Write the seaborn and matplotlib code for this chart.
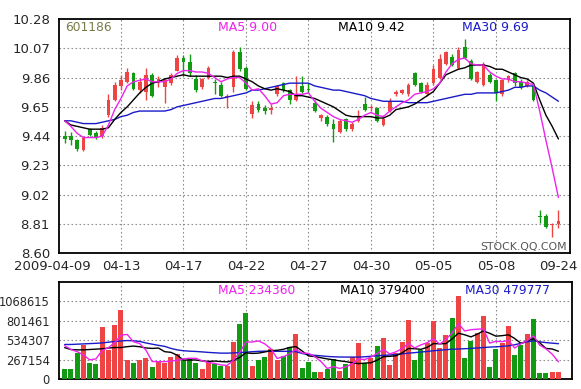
import numpy as np
import pandas as pd
import matplotlib
matplotlib.use("Agg")
import matplotlib.pyplot as plt
import seaborn as sns

# ---------------- data ----------------
stock_code = "601186"
date_labels = ["2009-04-09", "04-13", "04-17", "04-22", "04-27", "04-30", "05-05", "05-08", "09-24"]
price_ticks = ["8.60", "8.81", "9.02", "9.23", "9.44", "9.65", "9.86", "10.07", "10.28"]
volume_ticks = ["0", "267154", "534307", "801461", "1068615"]
volume_top = 1335769
ma_price_labels = ["MA5 9.00", "MA10 9.42", "MA30 9.69"]
ma_volume_labels = ["MA5 234360", "MA10 379400", "MA30 479777"]

open_ = [9.44, 9.44, 9.41, 9.34, 9.49, 9.46, 9.44, 9.59, 9.70, 9.80,
         9.83, 9.89, 9.77, 9.76, 9.88, 9.82, 9.79, 9.82, 9.91, 10.00,
         9.97, 9.85, 9.79, 9.86, 9.83, 9.81, 9.72, 9.79, 10.04, 9.93,
         9.60, 9.67, 9.64, 9.63, 9.74, 9.82, 9.77, 9.70, 9.80, 9.78,
         9.68, 9.57, 9.58, 9.53, 9.47, 9.56, 9.49, 9.55, 9.67, 9.64,
         9.64, 9.52, 9.62, 9.74, 9.75, 9.74, 9.89, 9.82, 9.74, 9.82,
         9.86, 9.96, 10.01, 9.93, 10.08, 9.98, 9.83, 9.81, 9.88, 9.84,
         9.74, 9.84, 9.89, 9.83, 9.80, 9.80, 8.87, 8.87, 8.80, 8.81]
close = [9.42, 9.41, 9.35, 9.43, 9.45, 9.43, 9.50, 9.70, 9.81, 9.84,
         9.90, 9.78, 9.83, 9.88, 9.73, 9.85, 9.84, 9.88, 10.00, 9.97,
         9.89, 9.77, 9.85, 9.93, 9.82, 9.73, 9.73, 10.04, 9.92, 9.78,
         9.66, 9.63, 9.62, 9.64, 9.80, 9.77, 9.70, 9.74, 9.76, 9.77,
         9.62, 9.59, 9.53, 9.49, 9.55, 9.49, 9.53, 9.58, 9.63, 9.65,
         9.55, 9.56, 9.69, 9.76, 9.77, 9.81, 9.81, 9.76, 9.81, 9.92,
         9.99, 10.04, 9.95, 10.06, 10.00, 9.85, 9.90, 9.96, 9.83, 9.75,
         9.84, 9.87, 9.82, 9.79, 9.83, 9.70, 8.86, 8.79, 8.81, 8.83]
high = [9.48, 9.47, 9.42, 9.44, 9.50, 9.48, 9.52, 9.74, 9.83, 9.88,
        9.93, 9.90, 9.86, 9.93, 9.89, 9.87, 9.86, 9.89, 10.02, 10.02,
        10.03, 9.88, 9.86, 9.94, 9.85, 9.83, 9.74, 10.06, 10.08, 9.94,
        9.69, 9.69, 9.66, 9.67, 9.81, 9.83, 9.78, 9.87, 9.87, 9.82,
        9.70, 9.60, 9.59, 9.56, 9.56, 9.57, 9.54, 9.63, 9.72, 9.66,
        9.65, 9.59, 9.71, 9.77, 9.78, 9.82, 9.90, 9.83, 9.83, 9.95,
        10.03, 10.05, 10.03, 10.08, 10.14, 9.99, 9.91, 9.97, 9.89, 9.85,
        9.85, 9.88, 9.90, 9.85, 9.84, 9.81, 8.91, 8.88, 8.82, 8.91]
low = [9.39, 9.38, 9.33, 9.33, 9.44, 9.42, 9.43, 9.58, 9.69, 9.77,
       9.82, 9.77, 9.75, 9.70, 9.72, 9.79, 9.68, 9.81, 9.91, 9.87,
       9.87, 9.76, 9.78, 9.85, 9.74, 9.72, 9.64, 9.76, 9.91, 9.77,
       9.57, 9.61, 9.60, 9.60, 9.73, 9.76, 9.67, 9.69, 9.75, 9.75,
       9.61, 9.55, 9.51, 9.40, 9.46, 9.48, 9.48, 9.54, 9.62, 9.62,
       9.54, 9.51, 9.61, 9.73, 9.74, 9.73, 9.80, 9.75, 9.73, 9.81,
       9.85, 9.95, 9.94, 9.92, 9.99, 9.84, 9.82, 9.80, 9.82, 9.69,
       9.73, 9.83, 9.80, 9.78, 9.79, 9.69, 8.82, 8.78, 8.72, 8.78]

ma5 = [9.55, 9.51, 9.46, 9.43, 9.43, 9.43, 9.44, 9.52, 9.63, 9.71,
       9.80, 9.83, 9.84, 9.85, 9.83, 9.83, 9.83, 9.85, 9.89, 9.91,
       9.91, 9.90, 9.90, 9.89, 9.86, 9.83, 9.85, 9.86, 9.86, 9.82,
       9.77, 9.78, 9.73, 9.67, 9.68, 9.73, 9.74, 9.74, 9.74, 9.75,
       9.69, 9.64, 9.61, 9.58, 9.56, 9.55, 9.54, 9.56, 9.59, 9.61,
       9.59, 9.58, 9.62, 9.65, 9.68, 9.70, 9.74, 9.75, 9.76, 9.78,
       9.82, 9.90, 9.96, 9.99, 10.00, 9.96, 9.95, 9.95, 9.90, 9.87,
       9.85, 9.85, 9.83, 9.83, 9.82, 9.81, 9.62, 9.41, 9.21, 9.00]
ma10 = [9.55, 9.52, 9.51, 9.50, 9.49, 9.49, 9.49, 9.50, 9.56, 9.61,
        9.65, 9.70, 9.75, 9.79, 9.82, 9.83, 9.85, 9.86, 9.87, 9.88,
        9.87, 9.87, 9.87, 9.87, 9.87, 9.87, 9.86, 9.87, 9.87, 9.85,
        9.83, 9.80, 9.78, 9.77, 9.78, 9.77, 9.76, 9.73, 9.73, 9.72,
        9.71, 9.69, 9.67, 9.65, 9.62, 9.59, 9.58, 9.58, 9.58, 9.58,
        9.57, 9.57, 9.59, 9.63, 9.64, 9.65, 9.67, 9.70, 9.73, 9.76,
        9.82, 9.88, 9.90, 9.92, 9.93, 9.95, 9.95, 9.95, 9.94, 9.92,
        9.92, 9.90, 9.88, 9.86, 9.85, 9.82, 9.70, 9.59, 9.51, 9.42]
ma30 = [9.55, 9.55, 9.54, 9.53, 9.53, 9.53, 9.54, 9.55, 9.56, 9.58,
        9.59, 9.61, 9.62, 9.62, 9.62, 9.62, 9.62, 9.63, 9.65, 9.66,
        9.67, 9.68, 9.69, 9.70, 9.71, 9.71, 9.72, 9.73, 9.74, 9.75,
        9.77, 9.77, 9.78, 9.79, 9.80, 9.81, 9.82, 9.82, 9.82, 9.82,
        9.80, 9.79, 9.78, 9.77, 9.77, 9.76, 9.75, 9.74, 9.73, 9.71,
        9.70, 9.69, 9.69, 9.69, 9.69, 9.68, 9.68, 9.68, 9.68, 9.69,
        9.70, 9.71, 9.72, 9.73, 9.74, 9.74, 9.75, 9.75, 9.75, 9.75,
        9.76, 9.77, 9.79, 9.79, 9.80, 9.80, 9.77, 9.75, 9.72, 9.69]

# volumes in thousands of shares
volume_k = [138, 138, 359, 460, 221, 203, 718, 396, 737, 949,
            258, 221, 267, 286, 166, 249, 221, 304, 350, 267,
            276, 221, 138, 230, 203, 175, 184, 507, 755, 912,
            184, 258, 304, 405, 258, 313, 442, 617, 150, 238,
            97, 97, 144, 273, 116, 208, 296, 495, 213, 292,
            458, 565, 194, 356, 514, 810, 260, 404, 500, 797,
            427, 598, 843, 1138, 288, 520, 630, 860, 168, 410,
            490, 722, 335, 464, 621, 829, 78, 78, 97, 97]
vma5_k = [458, 405, 375, 330, 263, 276, 392, 430, 500, 601,
          612, 512, 486, 396, 240, 238, 238, 245, 258, 278,
          284, 284, 250, 226, 214, 193, 186, 260, 365, 507,
          508, 523, 483, 413, 282, 308, 344, 407, 356, 352,
          309, 240, 145, 170, 145, 168, 207, 278, 266, 301,
          351, 405, 344, 373, 417, 488, 427, 469, 498, 554,
          478, 545, 633, 761, 659, 677, 684, 687, 493, 518,
          512, 530, 425, 484, 526, 594, 465, 414, 341, 236]
vma10_k = [430, 405, 400, 400, 405, 410, 415, 425, 432, 432,
           444, 452, 443, 426, 420, 425, 375, 366, 327, 259,
           261, 261, 248, 242, 246, 239, 235, 255, 296, 360,
           351, 355, 371, 389, 394, 408, 434, 445, 384, 317,
           308, 292, 276, 263, 249, 238, 224, 211, 218, 223,
           259, 306, 311, 319, 359, 419, 416, 407, 435, 486,
           483, 486, 551, 629, 607, 578, 615, 660, 627, 588,
           595, 607, 556, 489, 522, 553, 498, 420, 412, 381]
vma30_k = [474, 474, 478, 482, 486, 490, 495, 505, 515, 522,
           528, 525, 515, 495, 478, 462, 448, 420, 400, 388,
           382, 378, 372, 365, 360, 355, 355, 358, 362, 368,
           375, 380, 382, 382, 380, 380, 380, 375, 350, 335,
           325, 318, 310, 305, 302, 301, 301, 301, 305, 312,
           318, 325, 330, 335, 345, 355, 362, 370, 378, 388,
           395, 403, 408, 412, 416, 420, 426, 432, 438, 442,
           448, 455, 470, 490, 510, 525, 510, 500, 492, 485]

# ---------------- style ----------------
sns.set_style("white")
plt.rcParams["font.family"] = ["DejaVu Sans"]

RED = "#ee4444"
GREEN = "#129a12"
C_MA5 = "#ee22ee"
C_MA10 = "#000000"
C_MA30 = "#1a1ac8"
GRID = "#8c8c8c"
GRID_LS = (0, (1.4, 2.2))

W, H = 581, 389
fig = plt.figure(figsize=(W / 100, H / 100), dpi=100)
fig.patch.set_facecolor("white")


def fx(px):
    return px / W


def fy(py):
    return 1 - py / H


ax1 = fig.add_axes([fx(59), fy(253.3), fx(569.5 - 59), (253.3 - 19) / H])
ax2 = fig.add_axes([fx(59), fy(379), fx(571.5 - 59), (379 - 281.7) / H])

n = len(close)
idx = np.arange(n)
o = np.array(open_)
c = np.array(close)
up = c >= o
direction = np.where(up, "up", "down")
colors = np.where(up, RED, GREEN)

df = pd.DataFrame({"i": idx, "open": o, "close": c, "high": high, "low": low,
                   "ma5": ma5, "ma10": ma10, "ma30": ma30,
                   "vol": volume_k, "vma5": vma5_k, "vma10": vma10_k, "vma30": vma30_k,
                   "dir": direction})

grid_pos = [9, 19, 29, 39, 49, 59, 69]
label_pos = [9, 19, 29, 39, 49, 59, 69, 79]

# ---- price panel ----
ax1.vlines(df["i"], df["low"], df["high"], colors=colors, lw=1.0, zorder=3)
ax1.bar(df["i"], np.maximum(np.abs(c - o), 0.007), bottom=np.minimum(o, c),
        width=0.62, color=colors, linewidth=0, zorder=3)
for col, colr in (("ma30", C_MA30), ("ma10", C_MA10), ("ma5", C_MA5)):
    sns.lineplot(data=df, x="i", y=col, ax=ax1, color=colr, lw=1.0, zorder=5)

pt = [float(t) for t in price_ticks]
ax1.set_ylim(pt[0], pt[-1])
ax1.set_xlim(-0.91, 80.77)
ax1.set_yticks(pt)
ax1.set_yticklabels(price_ticks, fontsize=9.5)
ax1.set_xticks(label_pos)
ax1.set_xticklabels(date_labels[1:], fontsize=9.5)
ax1.set_xlabel("")
ax1.set_ylabel("")
for y in pt[1:-1]:
    ax1.axhline(y, color=GRID, lw=0.8, ls=GRID_LS, zorder=2)
for x in grid_pos:
    ax1.axvline(x, color=GRID, lw=0.8, ls=GRID_LS, zorder=2)
ax1.tick_params(length=0, pad=6.5)
ax1.tick_params(axis="x", pad=5)
ax1.text(-1.95, -0.03, date_labels[0], transform=ax1.get_xaxis_transform(),
         ha="center", va="top", fontsize=9.5, clip_on=False, zorder=6)

# ---- volume panel ----
sns.barplot(data=df, x="i", y="vol", hue="dir", palette={"up": RED, "down": GREEN},
            dodge=False, legend=False, errorbar=None, saturation=1, width=0.8,
            native_scale=True, ax=ax2, zorder=3, linewidth=0)
for col, colr in (("vma30", C_MA30), ("vma10", C_MA10), ("vma5", C_MA5)):
    sns.lineplot(data=df, x="i", y=col, ax=ax2, color=colr, lw=1.0, zorder=5)

vt = [float(t) / 1000 for t in volume_ticks]
ax2.set_ylim(0, volume_top / 1000)
ax2.set_xlim(-0.91, 81.09)
ax2.set_yticks(vt)
ax2.set_yticklabels(volume_ticks, fontsize=8.3)
ax2.set_xticks([])
ax2.set_xlabel("")
ax2.set_ylabel("")
for y in vt[1:]:
    ax2.axhline(y, color=GRID, lw=0.8, ls=GRID_LS, zorder=2)
for x in grid_pos:
    ax2.axvline(x, color=GRID, lw=0.8, ls=GRID_LS, zorder=2)
ax2.tick_params(length=0, pad=6.5)

for ax in (ax1, ax2):
    ax.set_facecolor("white")
    for s in ax.spines.values():
        s.set_visible(True)
        s.set_color("black")
        s.set_linewidth(1.3)

# ---- annotations ----
fig.text(fx(65), fy(27.5), stock_code, color="#7a7a48", fontsize=8.8, va="center", ha="left")
for lbl, colr, x in zip(ma_price_labels, (C_MA5, C_MA10, C_MA30), (218.3, 338.3, 461.7)):
    fig.text(fx(x), fy(27.5), lbl, color=colr, fontsize=9, va="center", ha="left")
for lbl, colr, x in zip(ma_volume_labels, (C_MA5, C_MA10, C_MA30), (218.3, 340, 465)):
    fig.text(fx(x), fy(290), lbl, color=colr, fontsize=8.8, va="center", ha="left")
fig.text(fx(567), fy(247), "STOCK.QQ.COM", color="#555555", fontsize=7.8, va="center", ha="right")

fig.savefig("out.png", dpi=100, facecolor="white")
